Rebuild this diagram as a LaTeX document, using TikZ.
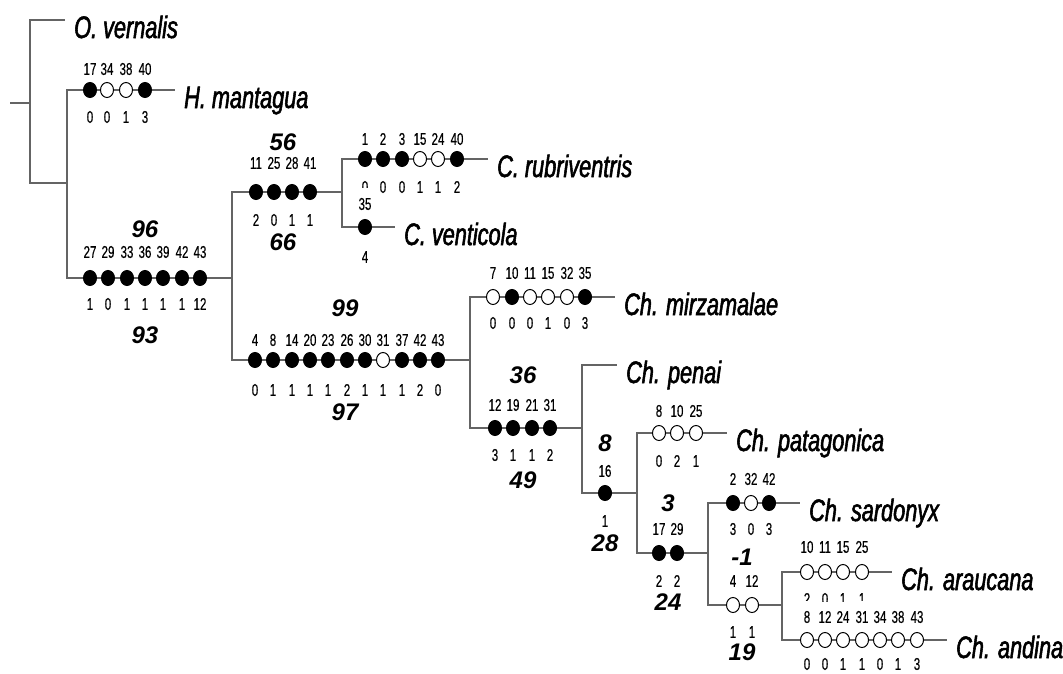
\documentclass[tikz,border=0pt]{standalone}
\usepackage{fontspec}
\setmainfont{Liberation Sans}
\newfontfamily\taxfont[FakeStretch=0.70,FakeBold=1.8]{Liberation Sans}
\newfontfamily\numfont[FakeStretch=0.68,FakeBold=0.4]{Liberation Sans}
\usetikzlibrary{shapes.geometric}
\definecolor{treegray}{RGB}{100,100,100}

% one row of character-state marks on a branch:
% [top-label style]{prefix}{branch y}{upper label y}{lower label y}{x/fill/character/state,...}
\newcommand\charrow[6][]{%
  \foreach \cx/\cf/\ct/\cb [count=\ci] in {#6}{
    \node[num,#1] (#2-t\ci) at (\cx,#4) {\ct};
    \node[num] (#2-b\ci) at (\cx,#5) {\cb};
    \node[chr=\cf] (#2-c\ci) at (\cx,#3) {};
  }}

\begin{document}
\begin{tikzpicture}[x=1pt,y=-1pt,
  tree/.style={draw=treegray,line width=1.8pt},
  chr/.style={ellipse,draw=black,line width=1pt,fill=#1,
    minimum width=13pt,minimum height=15pt,inner sep=0pt},
  num/.style={font=\numfont\fontsize{17}{17}\selectfont,inner sep=1pt},
  cover/.style={fill=white,inner ysep=9.5pt},
  taxon/.style={font=\taxfont\itshape\fontsize{31}{31}\selectfont,
    anchor=base west,inner sep=0pt,xshift=9pt,yshift=-18pt},
  supp/.style={font=\bfseries\itshape\fontsize{24}{24}\selectfont,inner sep=0pt}]
\useasboundingbox (0,0) rectangle (1063,673);

% internal nodes of the tree
\coordinate (base) at (10,103);
\coordinate (root) at (30,103);
\coordinate (n2) at (67,183);
\coordinate (n3) at (232,278);
\coordinate (n4) at (342,192);
\coordinate (n5) at (470,360);
\coordinate (n6) at (582,428);
\coordinate (n7) at (637,493);
\coordinate (n8) at (708,553);
\coordinate (n9) at (782,605);

% terminal branch ends
\coordinate (ov-tip) at (65,20);
\coordinate (ham-tip) at (175,90);
\coordinate (rub-tip) at (488,159);
\coordinate (ven-tip) at (395,227);
\coordinate (mir-tip) at (615,297);
\coordinate (pen-tip) at (617,365);
\coordinate (pat-tip) at (727,433);
\coordinate (sar-tip) at (800,503);
\coordinate (ara-tip) at (892,572);
\coordinate (and-tip) at (947,640);

% branches
\draw[tree] (base) -- (root);
\draw[tree] (root) |- (ov-tip);
\draw[tree] (root) |- (n2);
\draw[tree] (n2) |- (ham-tip);
\draw[tree] (n2) |- (n3);
\draw[tree] (n3) |- (n4);
\draw[tree] (n3) |- (n5);
\draw[tree] (n4) |- (rub-tip);
\draw[tree] (n4) |- (ven-tip);
\draw[tree] (n5) |- (mir-tip);
\draw[tree] (n5) |- (n6);
\draw[tree] (n6) |- (pen-tip);
\draw[tree] (n6) |- (n7);
\draw[tree] (n7) |- (pat-tip);
\draw[tree] (n7) |- (n8);
\draw[tree] (n8) |- (sar-tip);
\draw[tree] (n8) |- (n9);
\draw[tree] (n9) |- (ara-tip);
\draw[tree] (n9) |- (and-tip);

% taxon names
\node[taxon] (ov) at (ov-tip) {O. vernalis};
\node[taxon] (ham) at (ham-tip) {H. mantagua};
\node[taxon] (rub) at (rub-tip) {C. rubriventris};
\node[taxon] (ven) at (ven-tip) {C. venticola};
\node[taxon] (mir) at (mir-tip) {Ch. mirzamalae};
\node[taxon] (pen) at (pen-tip) {Ch. penai};
\node[taxon] (pat) at (pat-tip) {Ch. patagonica};
\node[taxon] (sar) at (sar-tip) {Ch. sardonyx};
\node[taxon] (ara) at (ara-tip) {Ch. araucana};
\node[taxon] (and) at (and-tip) {Ch. andina};

% character changes along branches
\charrow{ham}{90}{69}{117}{90/black/17/0,107/white/34/0,126/white/38/1,145/black/40/3}
\charrow{b96}{278}{252}{304}{90/black/27/1,108/black/29/0,127/black/33/1,145/black/36/1,163/black/39/1,182/black/42/1,200/black/43/12}
\charrow{b56}{192}{163}{220}{256/black/11/2,274/black/25/0,292/black/28/1,310/black/41/1}
\charrow{rub}{159}{139}{187}{365/black/1/0,383/black/2/0,402/black/3/0,420/white/15/1,438/white/24/1,457/black/40/2}
\charrow[cover]{ven}{227}{204}{257}{365/black/35/4}
\charrow{b99}{360}{340}{390}{255/black/4/0,273/black/8/1,292/black/14/1,310/black/20/1,328/black/23/1,347/black/26/2,365/black/30/1,383/white/31/1,402/black/37/1,420/black/42/2,438/black/43/0}
\charrow{mir}{297}{273}{323}{493/white/7/0,512/black/10/0,530/white/11/0,548/white/15/1,567/white/32/0,585/black/35/3}
\charrow{b36}{428}{405}{455}{495/black/12/3,513/black/19/1,532/black/21/1,550/black/31/2}
\charrow{b16}{493}{471}{521}{605/black/16/1}
\charrow{pat}{433}{411}{461}{659/white/8/0,677/white/10/2,696/white/25/1}
\charrow{b3}{553}{529}{581}{659/black/17/2,677/black/29/2}
\charrow{sar}{503}{479}{529}{733/black/2/3,751/white/32/0,769/black/42/3}
\charrow{bm1}{605}{581}{632}{733/white/4/1,752/white/12/1}
\charrow{ara}{572}{547}{599}{807/white/10/2,825/white/11/0,843/white/15/1,862/white/25/1}
\charrow[cover]{and}{640}{617}{664}{807/white/8/0,825/white/12/0,843/white/24/1,862/white/31/1,880/white/34/0,898/white/38/1,917/white/43/3}

% support values
\node[supp] (s96) at (145,229) {96};
\node[supp] (s93) at (145,335) {93};
\node[supp] (s56) at (283,142) {56};
\node[supp] (s66) at (283,242) {66};
\node[supp] (s99) at (345,308) {99};
\node[supp] (s97) at (345,412) {97};
\node[supp] (s36) at (523,375) {36};
\node[supp] (s49) at (523,480) {49};
\node[supp] (s8) at (605,443) {8};
\node[supp] (s28) at (605,543) {28};
\node[supp] (s3) at (668,503) {3};
\node[supp] (s24) at (668,602) {24};
\node[supp] (sm1) at (742,557) {-1};
\node[supp] (s19) at (742,652) {19};
\end{tikzpicture}
\end{document}
